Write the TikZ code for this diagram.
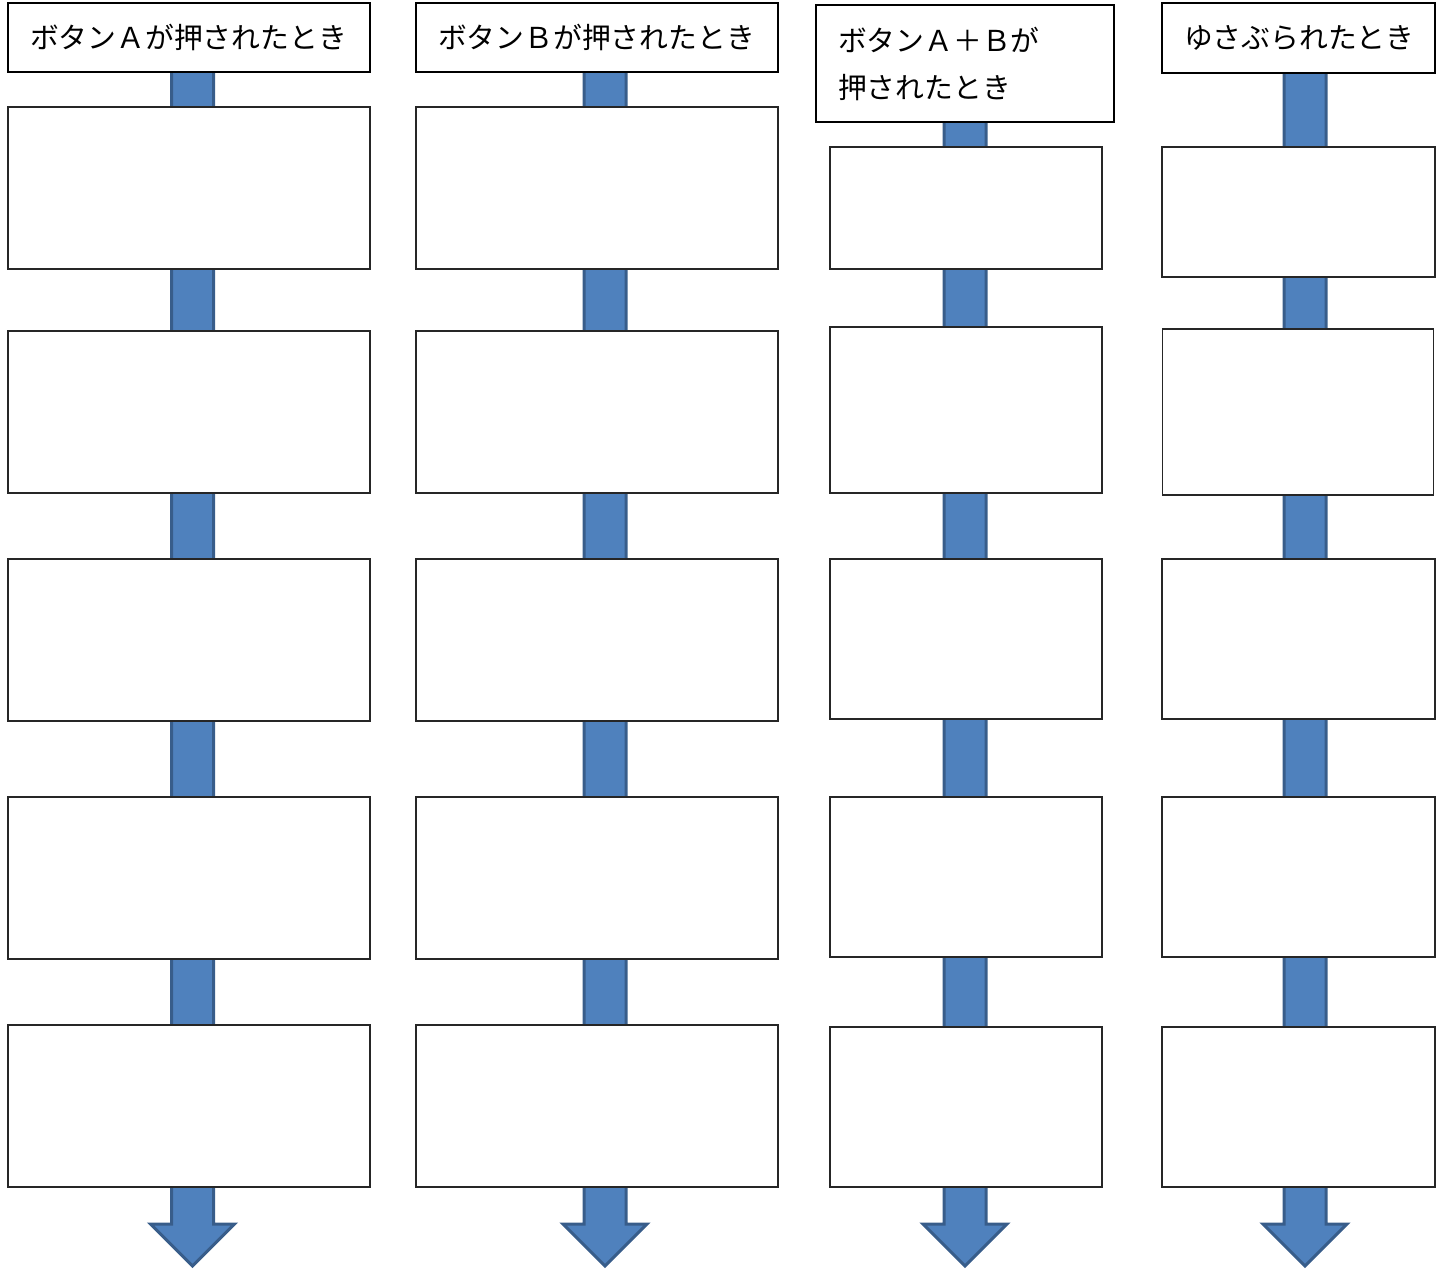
\documentclass[tikz,border=0pt]{standalone}
\usepackage{fontspec}
\newfontfamily\jp{Noto Sans CJK JP}
\usetikzlibrary{calc}
\definecolor{arrowfill}{HTML}{4F81BD}
\definecolor{arrowline}{HTML}{385D8A}
\tikzset{
  stepbox/.style={draw=black!85, line width=0.7pt, fill=white, inner sep=0pt, outer sep=0pt},
  titlebox/.style={draw=black, line width=1pt, fill=white, inner xsep=11pt, inner ysep=0pt, outer sep=0pt,
    align=left, font=\jp\fontsize{14.4pt}{23.5pt}\selectfont},
  flowarrow/.style={fill=arrowfill, draw=arrowline, line width=1.5pt, line join=miter},
}
\newcommand\blockarrow[2]{% start coordinate, tip coordinate
  \draw[flowarrow] ($(#1)+(-21,0)$) -- ($(#2)+(-21,-42)$) -- ($(#2)+(-42,-42)$) -- (#2)
    -- ($(#2)+(42,-42)$) -- ($(#2)+(21,-42)$) -- ($(#1)+(21,0)$) -- cycle;}
\begin{document}
\begin{tikzpicture}[x=0.5pt,y=-0.5pt]
\useasboundingbox (0,0) rectangle (1438,1269);
% arrow coordinates
\coordinate (s1) at (192.5,60);  \coordinate (e1) at (192.5,1266);
\coordinate (s2) at (605,60);    \coordinate (e2) at (605,1266);
\coordinate (s3) at (965,100);   \coordinate (e3) at (965,1266);
\coordinate (s4) at (1305,60);   \coordinate (e4) at (1305,1266);
\blockarrow{s1}{e1}
\blockarrow{s2}{e2}
\blockarrow{s3}{e3}
\blockarrow{s4}{e4}
% titles
\node[titlebox, minimum width=181pt, minimum height=34.5pt, text width=159pt] (t1) at (189,37.5) {ボタンＡが押されたとき};
\node[titlebox, minimum width=181pt, minimum height=34.5pt, text width=159pt] (t2) at (597,37.5) {ボタンＢが押されたとき};
\node[titlebox, minimum width=149pt, minimum height=58.5pt, text width=127pt] (t3) at (965,63.5) {ボタンＡ＋Ｂが\\押されたとき};
\node[titlebox, minimum width=136.5pt, minimum height=35pt, text width=114.5pt] (t4) at (1298.5,38) {ゆさぶられたとき};
% column 1 and 2 boxes
\foreach \c/\x in {a/189, b/597}{
  \foreach \i/\y in {1/188, 2/412, 3/640, 4/878, 5/1106}{
    \node[stepbox, minimum width=181pt, minimum height=81pt] (\c\i) at (\x,\y) {};
  }
}
% column 3 boxes
\node[stepbox, minimum width=136pt, minimum height=61pt] (c1) at (966,208) {};
\node[stepbox, minimum width=136pt, minimum height=83pt] (c2) at (966,410) {};
\node[stepbox, minimum width=136pt, minimum height=80pt] (c3) at (966,639) {};
\node[stepbox, minimum width=136pt, minimum height=80pt] (c4) at (966,877) {};
\node[stepbox, minimum width=136pt, minimum height=80pt] (c5) at (966,1107) {};
% column 4 boxes
\node[stepbox, minimum width=136.5pt, minimum height=65pt] (d1) at (1298.5,212) {};
\node[stepbox, minimum width=135.5pt, minimum height=83pt] (d2) at (1298,412) {};
\node[stepbox, minimum width=136.5pt, minimum height=80pt] (d3) at (1298.5,639) {};
\node[stepbox, minimum width=136.5pt, minimum height=80pt] (d4) at (1298.5,877) {};
\node[stepbox, minimum width=136.5pt, minimum height=80pt] (d5) at (1298.5,1107) {};
\end{tikzpicture}
\end{document}
